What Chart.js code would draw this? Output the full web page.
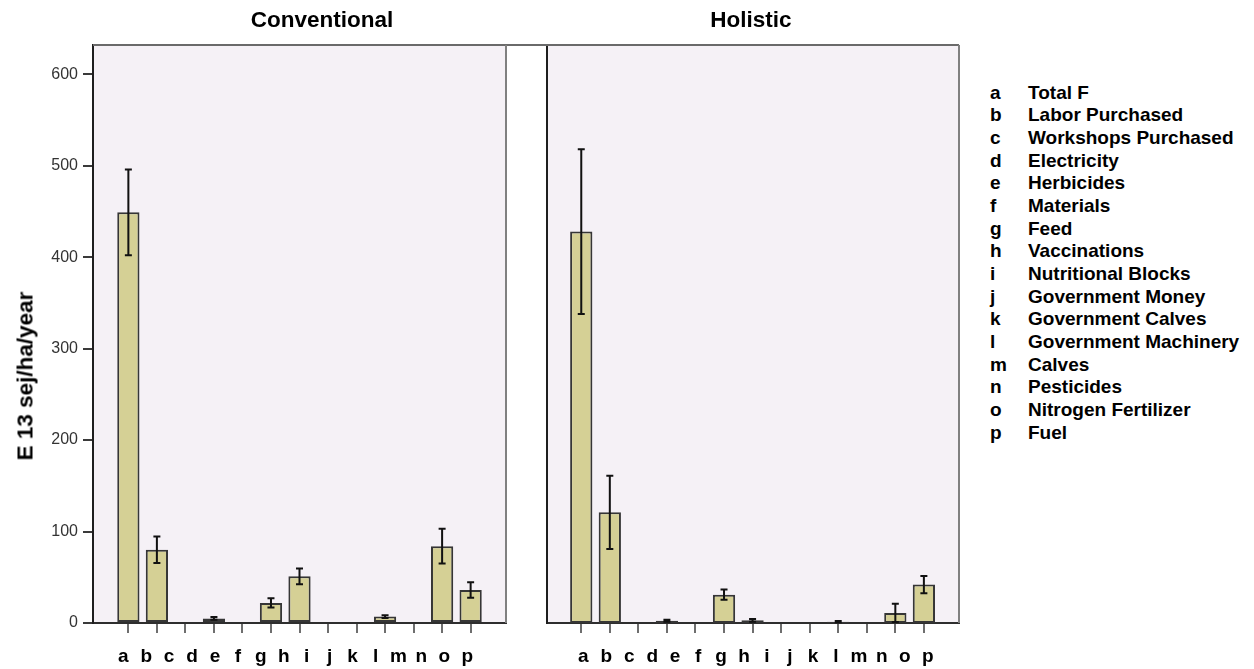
<!DOCTYPE html>
<html>
<head>
<meta charset="utf-8">
<script src="https://cdn.jsdelivr.net/npm/chart.js@4.4.0/dist/chart.umd.min.js"></script>
<style>
  body {
    margin: 0;
    width: 1254px;
    height: 669px;
    overflow: hidden;
    position: relative;
    background: #fff;
    font-family: Arial, "Liberation Sans", sans-serif;
  }
  .panel { position: absolute; top: 0; }
  #leftBox { left: 0; }
  #rightBox { left: 520px; }
  .title {
    position: absolute;
    top: 6px;
    font-size: 22.5px;
    line-height: 27px;
    font-weight: bold;
    white-space: nowrap;
    transform: translateX(-50%);
  }
  #ylab {
    position: absolute;
    left: 25px;
    top: 376px;
    font-size: 22.5px;
    line-height: 27px;
    font-weight: bold;
    white-space: nowrap;
    transform: translate(-50%, -50%) rotate(-90deg);
  }
  #legend {
    position: absolute;
    left: 990px;
    top: 81.6px;
    font-size: 19px;
    line-height: 22.67px;
    font-weight: bold;
    white-space: nowrap;
  }
  #legend .k { display: inline-block; width: 38px; }
</style>
</head>
<body>
<div class="panel" id="leftBox"><canvas id="conventional" width="520" height="669"></canvas></div>
<div class="panel" id="rightBox"><canvas id="holistic" width="460" height="669"></canvas></div>
<div class="title" style="left:322px">Conventional</div>
<div class="title" style="left:751px">Holistic</div>
<div id="ylab">E 13 sej/ha/year</div>
<div id="legend"></div>
<script>
const codes = ["a", "b", "c", "d", "e", "f", "g", "h", "i", "j", "k", "l", "m", "n", "o", "p"];
const inputNames = [
  "Total F",
  "Labor Purchased",
  "Workshops Purchased",
  "Electricity",
  "Herbicides",
  "Materials",
  "Feed",
  "Vaccinations",
  "Nutritional Blocks",
  "Government Money",
  "Government Calves",
  "Government Machinery",
  "Calves",
  "Pesticides",
  "Nitrogen Fertilizer",
  "Fuel",
];
// 13 bars are drawn in each panel, under 16 letters
const conventionalMeans = [449, 80, 0, 5, 0.8, 22, 51, 0, 0, 7, 0, 84, 36];
const conventionalErrors = [47, 14.5, 0, 1.5, 0, 5, 8.7, 0, 0, 1.5, 0, 19, 8.5];
const holisticMeans = [428, 121, 0, 2.5, 0, 31, 3, 0, 0, 1.5, 0, 11, 42];
const holisticErrors = [90, 40, 0, 1, 0, 5.5, 1.5, 0, 0, 0.8, 0, 10, 9.5];
const yTickValues = [0, 100, 200, 300, 400, 500, 600];

const fontFamily = "Arial, 'Liberation Sans', sans-serif";

const panelFrame = {
  id: "panelFrame",
  beforeDraw(chart) {
    const { ctx, chartArea } = chart;
    ctx.save();
    ctx.fillStyle = "#f5f1f6";
    ctx.fillRect(chartArea.left, chartArea.top, chartArea.right - chartArea.left, chartArea.bottom - chartArea.top);
    ctx.restore();
  },
  afterDraw(chart, args, opts) {
    const { ctx, chartArea } = chart;
    ctx.save();
    ctx.lineWidth = 2;
    ctx.strokeStyle = "#6a6a6a";
    ctx.beginPath();
    ctx.moveTo(opts.topToLeftEdge ? 0 : chartArea.left, chartArea.top);
    ctx.lineTo(opts.topToRightEdge ? chart.width : chartArea.right, chartArea.top);
    ctx.stroke();
    ctx.strokeStyle = "#808080";
    ctx.beginPath();
    ctx.moveTo(chartArea.right, chartArea.top);
    ctx.lineTo(chartArea.right, chartArea.bottom);
    ctx.stroke();
    ctx.restore();
  },
};

const errorBars = {
  id: "errorBars",
  afterDatasetsDraw(chart) {
    const { ctx } = chart;
    const yScale = chart.scales.y;
    const dataset = chart.data.datasets[0];
    const meta = chart.getDatasetMeta(0);
    ctx.save();
    ctx.strokeStyle = "#111";
    ctx.lineWidth = 2;
    meta.data.forEach((bar, i) => {
      const mean = dataset.data[i].y;
      const err = dataset.errors[i];
      if (!err) return;
      const top = yScale.getPixelForValue(mean + err);
      const bottom = yScale.getPixelForValue(mean - err);
      ctx.beginPath();
      ctx.moveTo(bar.x, top);
      ctx.lineTo(bar.x, bottom);
      ctx.moveTo(bar.x - 3.5, top);
      ctx.lineTo(bar.x + 3.5, top);
      ctx.moveTo(bar.x - 3.5, bottom);
      ctx.lineTo(bar.x + 3.5, bottom);
      ctx.stroke();
    });
    ctx.restore();
  },
};

function yAxis(showLabels) {
  return {
    type: "linear",
    position: "left",
    min: 0,
    max: 632,
    afterBuildTicks: (scale) => {
      scale.ticks = yTickValues.map((v) => ({ value: v }));
    },
    afterFit: (scale) => {
      scale.width = showLabels ? 93 : 0;
    },
    ticks: {
      display: showLabels,
      color: "#333",
      padding: 5,
      font: { family: fontFamily, size: 16 },
    },
    grid: {
      display: showLabels,
      drawOnChartArea: false,
      drawTicks: true,
      tickLength: 10,
      color: "#3a3a3a",
      lineWidth: 2,
    },
    border: { display: true, color: "#1e1e1e", width: 2 },
  };
}

function drawPanel(canvasId, means, errors, setup) {
  const cxt = document.getElementById(canvasId);
  return new Chart(cxt, {
    type: "bar",
    data: {
      datasets: [
        {
          data: means.map((v, i) => ({ x: i, y: v })),
          errors: errors,
          xAxisID: "xb",
          yAxisID: "y",
          backgroundColor: "#d5d095",
          borderColor: "#363636",
          borderWidth: 2,
          borderSkipped: false,
          barPercentage: 1,
          categoryPercentage: 0.78,
        },
      ],
    },
    options: {
      responsive: false,
      animation: false,
      events: [],
      layout: { padding: { left: setup.padLeft, right: setup.padRight, top: 45, bottom: 0 } },
      plugins: {
        legend: { display: false },
        tooltip: { enabled: false },
        panelFrame: { topToLeftEdge: setup.topToLeftEdge, topToRightEdge: setup.topToRightEdge },
      },
      scales: {
        xb: {
          type: "linear",
          position: "bottom",
          weight: 0,
          min: setup.barMin,
          max: setup.barMax,
          offset: false,
          afterBuildTicks: (scale) => {
            scale.ticks = means.map((_, i) => ({ value: i }));
          },
          afterFit: (scale) => {
            scale.height = 10;
          },
          ticks: { display: false },
          grid: {
            display: true,
            offset: false,
            drawOnChartArea: false,
            drawTicks: true,
            tickLength: 10,
            color: "#6e6e6e",
            lineWidth: 2,
          },
          border: { display: true, color: "#2e2e2e", width: 2 },
        },
        xl: {
          type: "linear",
          position: "bottom",
          weight: 1,
          min: setup.letterMin,
          max: setup.letterMax,
          offset: false,
          afterBuildTicks: (scale) => {
            scale.ticks = codes.map((_, i) => ({ value: i }));
          },
          afterFit: (scale) => {
            scale.height = 36;
          },
          ticks: {
            autoSkip: false,
            maxRotation: 0,
            minRotation: 0,
            padding: 12,
            color: "#000",
            font: { family: fontFamily, size: 19, weight: "bold" },
            callback: (value) => codes[value],
          },
          grid: { display: false, drawTicks: false, offset: false },
          border: { display: false },
        },
        y: yAxis(setup.showY),
      },
    },
    plugins: [panelFrame, errorBars],
  });
}

drawPanel("conventional", conventionalMeans, conventionalErrors, {
  padLeft: 0,
  padRight: 14,
  barMin: -1.24,
  barMax: 13.24,
  letterMin: -1.32,
  letterMax: 16.69,
  showY: true,
  topToLeftEdge: false,
  topToRightEdge: true,
});

drawPanel("holistic", holisticMeans, holisticErrors, {
  padLeft: 27,
  padRight: 21,
  barMin: -1.2,
  barMax: 13.23,
  letterMin: -1.58,
  letterMax: 16.36,
  showY: false,
  topToLeftEdge: true,
  topToRightEdge: false,
});

const legendBox = document.getElementById("legend");
codes.forEach((code, i) => {
  const row = document.createElement("div");
  row.innerHTML = '<span class="k">' + code + "</span>" + inputNames[i];
  legendBox.appendChild(row);
});
</script>
</body>
</html>
